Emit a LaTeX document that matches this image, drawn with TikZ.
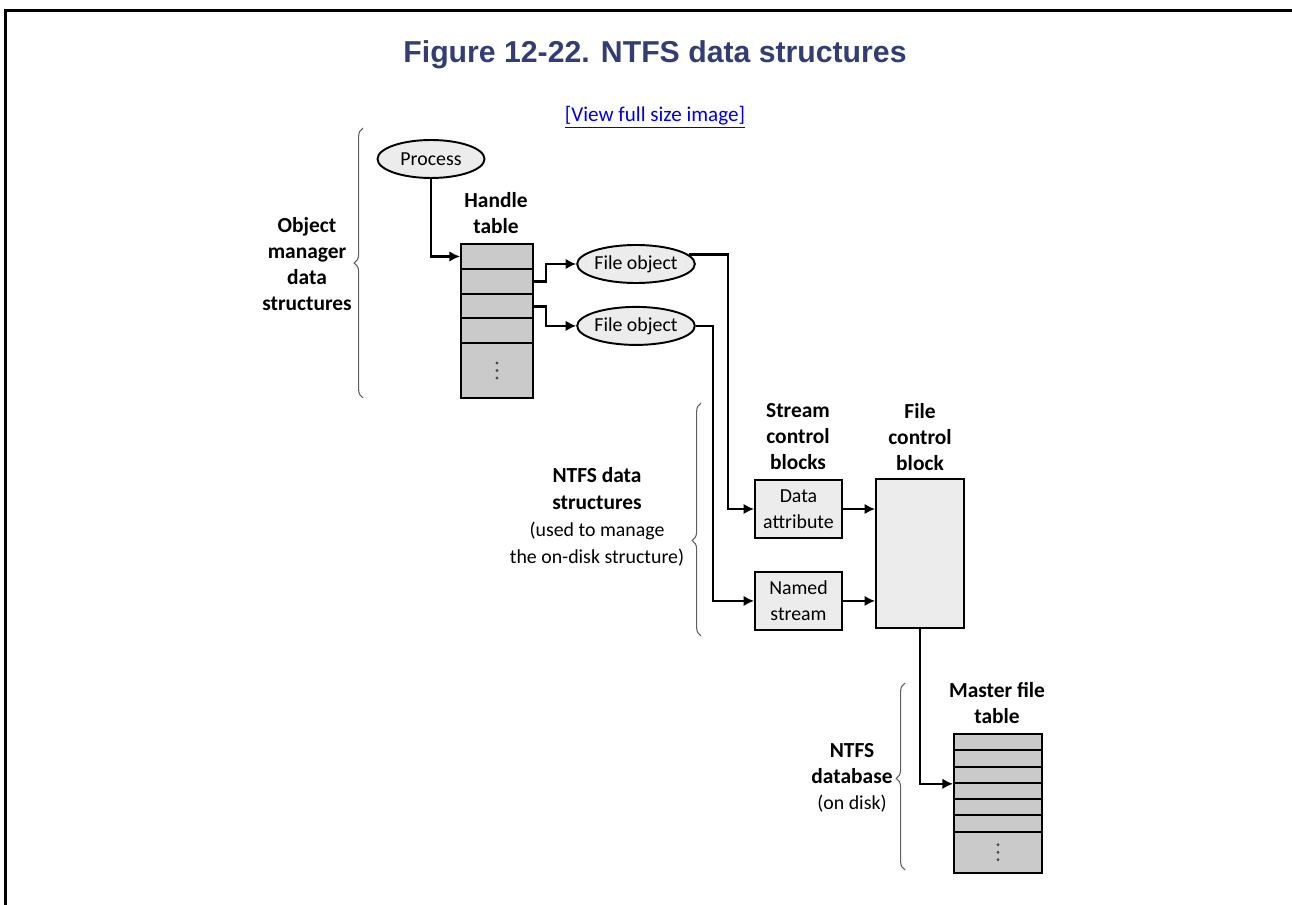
\documentclass[tikz,border=0pt]{standalone}
\usepackage{fontspec}
\setmainfont{Carlito}
\newfontfamily\titlefont{Liberation Sans}
\usetikzlibrary{shapes.geometric,arrows.meta,positioning,decorations.pathreplacing}
\definecolor{titleblue}{RGB}{51,61,117}
\definecolor{linkblue}{RGB}{0,0,230}
\definecolor{rowgray}{RGB}{202,202,202}
\definecolor{boxgray}{RGB}{236,236,236}
\definecolor{bracegray}{RGB}{95,95,95}
\newcommand{\hb}[1]{{\fontsize{12.2}{15.2}\selectfont\bfseries #1}}

\begin{document}
\begin{tikzpicture}[x=0.02cm, y=-0.02cm, font=\fontsize{11.3}{14.5}\selectfont,
	oval/.style={ellipse, draw, line width=1.1pt, fill=boxgray, inner sep=0pt, minimum height=0.76cm},
	blk/.style={rectangle, draw, line width=1.1pt, fill=boxgray, inner sep=1pt, minimum width=1.74cm, align=center},
	row/.style={rectangle, draw, line width=1.1pt, fill=rowgray, anchor=north west, inner sep=0pt},
	hdr/.style={align=center, font=\fontsize{12.2}{14.8}\selectfont\bfseries},
	conn/.style={line width=1.4pt, -{Latex[length=6pt,width=6pt]}},
	brc/.style={draw=bracegray, line width=0.6pt, decorate, decoration={brace, amplitude=5pt, aspect=#1}},
	brc/.default=0.5]
	\useasboundingbox (0,0) rectangle (1292,905);
	% frame and title
	\draw[line width=2pt] (5.5,905) -- (5.5,10.5) -- (1292,10.5);
	\node[font=\titlefont\bfseries\fontsize{17.2}{20}\selectfont, text=titleblue, anchor=base] (title) at (655,63) {Figure 12-22. NTFS data structures};
	\node[text=linkblue, font=\fontsize{12}{14}\selectfont] (view) at (655,117) {\underline{[View full size image]}};

	% object manager part
	\node[oval, minimum width=2.14cm] (proc) at (431,159) {Process};
	\node[hdr] (htlbl) at (496,213) {Handle\\table};
	\foreach \i/\t in {1/243, 2/268, 3/293, 4/317}
		\node[row, minimum width=1.44cm, minimum height=0.5cm] (h\i) at (460,\t) {};
	\node[row, minimum width=1.44cm, minimum height=1.1cm] (h5) at (460,342) {};
	\foreach \d in {-7.5,0,7.5}
		\fill[black!70] ([yshift=\d*0.02cm]h5.center) circle (0.9pt);
	\node[oval, minimum width=2.32cm] (fo1) at (636,264) {File object};
	\node[oval, minimum width=2.32cm, below=0.44cm of fo1] (fo2) {File object};

	% NTFS part
	\node[hdr] (sclbl) at (798,437) {Stream\\control\\blocks};
	\node[hdr] (fclbl) at (920,437) {File\\control\\block};
	\node[blk, minimum height=1.16cm] (da) at (798.5,509) {Data\\attribute};
	\node[blk, minimum height=1.16cm, below=0.64cm of da] (ns) {Named\\stream};
	\node[blk, minimum width=1.76cm, minimum height=2.98cm] (fcb) at (920,553.5) {};

	% master file table
	\node[hdr] (mftlbl) at (997,703) {Master file\\table};
	\foreach \i in {1,...,6}
		\node[row, minimum width=1.76cm, minimum height=0.326cm] (m\i) at (953,733+16.3*\i-16.3) {};
	\node[row, minimum width=1.76cm, minimum height=0.82cm] (m7) at (953,830.8) {};
	\foreach \d in {-7.5,0,7.5}
		\fill[black!70] ([yshift=\d*0.02cm]m7.center) circle (0.9pt);

	% connectors
	\draw[conn] (proc.south) |- (h1.west);
	\draw[conn] (h2.east) -- ++(12,0) |- (fo1.west);
	\draw[conn] (h3.east) -- ++(12,0) |- (fo2.west);
	\draw[conn] (fo1.10) -- ++(39,0) |- (da.west);
	\draw[conn] (fo2.east) -- ++(17,0) |- (ns.west);
	\draw[conn] (da.east) -- (da.east -| fcb.west);
	\draw[conn] (ns.east) -- (ns.east -| fcb.west);
	\draw[conn] (fcb.south) |- (m3.south west);

	% braces and their labels
	\draw[brc] (363,398) -- (363,128);
	\node[hdr] (omlbl) at (307,264) {Object\\manager\\data\\structures};
	\draw[brc=0.41] (701,636) -- (701,403);
	\node[align=center, font=\fontsize{11.3}{15.4}\selectfont] (ntfslbl) at (597,517) {\hb{NTFS data}\\\hb{structures}\\(used to manage\\the on-disk structure)};
	\draw[brc=0.49] (905,870) -- (905,683);
	\node[align=center, font=\fontsize{11.3}{14.8}\selectfont] (dblbl) at (852,778) {\hb{NTFS}\\\hb{database}\\(on disk)};
\end{tikzpicture}
\end{document}
